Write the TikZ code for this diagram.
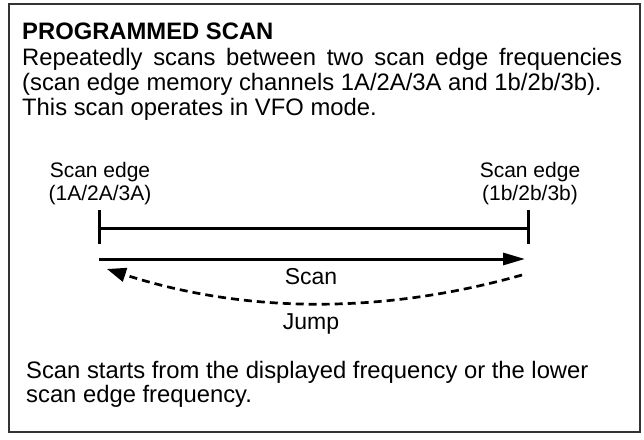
\documentclass[tikz,border=0pt]{standalone}
\usepackage{fontspec}
\setmainfont{Liberation Sans}
\usetikzlibrary{arrows.meta}
\definecolor{framegray}{HTML}{333333}
\tikzset{
  bodytext/.style={anchor=base west, inner sep=0pt, font=\fontsize{23.8}{24}\selectfont},
  titletext/.style={anchor=base west, inner sep=0pt, font=\fontsize{23.8}{24}\selectfont\bfseries},
  edgelabel/.style={anchor=base, inner sep=0pt, font=\fontsize{21}{23}\selectfont},
  midlabel/.style={anchor=base, inner sep=0pt, font=\fontsize{23}{24}\selectfont},
  heavy/.style={line width=3pt},
  scanarrow/.style={line width=3pt, -{Triangle[length=22pt,width=12pt]}},
  jumparrow/.style={line width=2.7pt, dash pattern=on 8pt off 5pt, -{Triangle[length=19pt,width=14pt]}},
}
\begin{document}
\begin{tikzpicture}[x=1pt,y=-1pt]
\useasboundingbox (0,0) rectangle (644,439);
\draw[framegray, line width=1.6pt] (9,4) rectangle (640,432);

\node[titletext] (title) at (22,39) {PROGRAMMED SCAN};
\node[bodytext] (l1) at (22,65) {\makebox[600pt][s]{Repeatedly scans between two scan edge frequencies}};
\node[bodytext] (l2) at (22,90) {(scan edge memory channels 1A/2A/3A and 1b/2b/3b).};
\node[bodytext] (l3) at (22,115) {This scan operates in VFO mode.};

\node[edgelabel] (la1) at (100,177) {Scan edge};
\node[edgelabel] (la2) at (100,200) {(1A/2A/3A)};
\node[edgelabel] (ra1) at (530,177) {Scan edge};
\node[edgelabel] (ra2) at (530,200) {(1b/2b/3b)};

\coordinate (L) at (99,228);
\coordinate (R) at (528,228);
\coordinate (Lt) at (99,210);
\coordinate (Lb) at (99,244);
\coordinate (Rt) at (528,210);
\coordinate (Rb) at (528,244);
\draw[heavy] (Lt) -- (Lb);
\draw[heavy] (Rt) -- (Rb);
\draw[heavy] (L) -- (R);

\coordinate (sa) at (99,259);
\coordinate (sb) at (525,259);
\draw[scanarrow] (sa) -- (sb);
\node[midlabel] (scan) at (311,284) {Scan};

\coordinate (ja) at (522,275);
\coordinate (jb) at (107,269);
\draw[jumparrow] (ja) .. controls (384,314) and (246,314) .. (jb);
\node[midlabel] (jump) at (311,329) {Jump};

\node[bodytext] (b1) at (26,378) {Scan starts from the displayed frequency or the lower};
\node[bodytext] (b2) at (26,402) {scan edge frequency.};
\end{tikzpicture}
\end{document}
